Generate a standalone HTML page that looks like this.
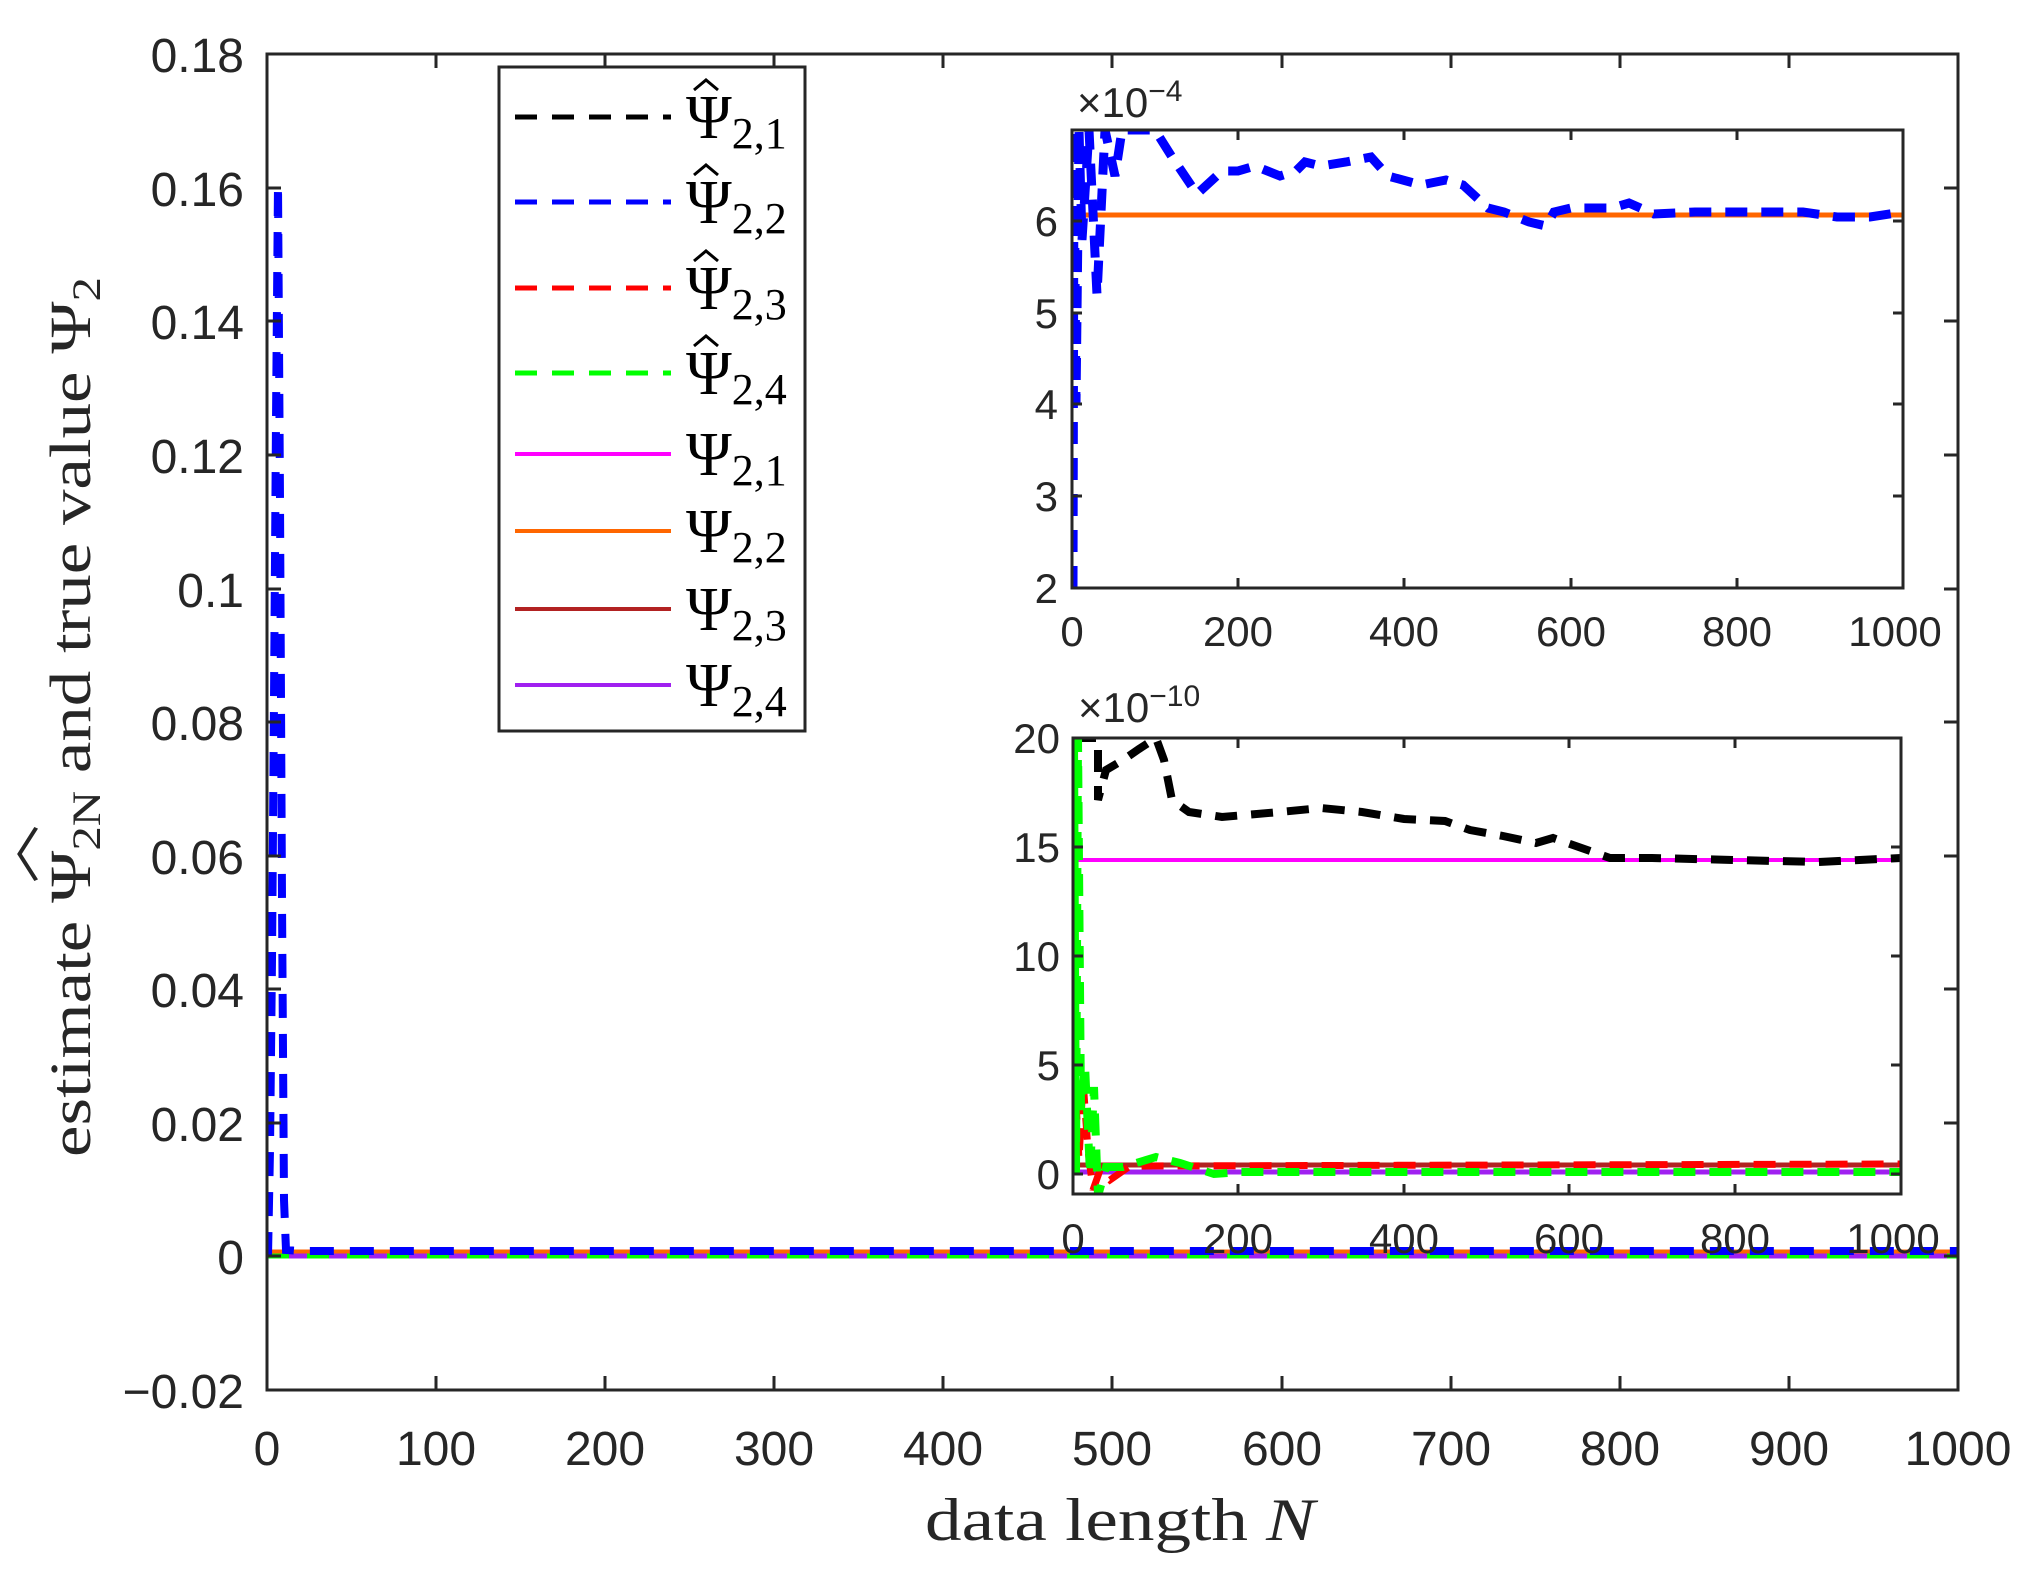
<!DOCTYPE html>
<html><head><meta charset="utf-8"><style>html,body{margin:0;padding:0;background:#fff}svg{display:block}</style></head>
<body>
<svg width="2043" height="1578" viewBox="0 0 2043 1578" xmlns="http://www.w3.org/2000/svg">
<defs>
<clipPath id="cm"><rect x="267" y="54" width="1691" height="1336"/></clipPath>
<clipPath id="c1"><rect x="1072" y="130" width="831" height="458"/></clipPath>
<clipPath id="c2"><rect x="1073" y="738" width="828" height="456"/></clipPath>
</defs>
<rect width="2043" height="1578" fill="#fff"/>
<g clip-path="url(#cm)" fill="none">
<line x1="267" y1="1252" x2="1958" y2="1252" stroke="#ff6600" stroke-width="5"/>
<line x1="267" y1="1256" x2="1958" y2="1256" stroke="#a020f0" stroke-width="5"/>
<line x1="267" y1="1256" x2="1958" y2="1256" stroke="#00ff00" stroke-width="5" stroke-dasharray="22 18"/>
<polyline points="268,1256 270,1150 272,960 274,700 276,420 278,185 280,500 282,900 284,1200 286,1250 300,1251 1958,1251" stroke="#0000ff" stroke-width="8" stroke-dasharray="24 16"/>
</g>
<g stroke="#262626" stroke-width="3" fill="none">
<rect x="267" y="54" width="1691" height="1336"/>
<path d="M267,54h14M267,188h14M267,321h14M267,455h14M267,589h14M267,722h14M267,856h14M267,989h14M267,1123h14M267,1256h14M1958,54h-14M1958,188h-14M1958,321h-14M1958,455h-14M1958,589h-14M1958,722h-14M1958,856h-14M1958,989h-14M1958,1123h-14M1958,1256h-14"/>
<path d="M436,1390v-14M605,1390v-14M774,1390v-14M943,1390v-14M1112,1390v-14M1282,1390v-14M1451,1390v-14M1620,1390v-14M1789,1390v-14M436,54v14M605,54v14M774,54v14M943,54v14M1112,54v14M1282,54v14M1451,54v14M1620,54v14M1789,54v14"/>
</g>
<g font-family="Liberation Sans, sans-serif" font-size="48" fill="#262626" text-anchor="end">
<text x="244" y="72">0.18</text><text x="244" y="206">0.16</text><text x="244" y="339">0.14</text><text x="244" y="473">0.12</text><text x="244" y="607">0.1</text><text x="244" y="740">0.08</text><text x="244" y="874">0.06</text><text x="244" y="1007">0.04</text><text x="244" y="1141">0.02</text><text x="244" y="1274">0</text><text x="244" y="1408">−0.02</text>
</g>
<g font-family="Liberation Sans, sans-serif" font-size="48" fill="#262626" text-anchor="middle">
<text x="267" y="1465">0</text><text x="436" y="1465">100</text><text x="605" y="1465">200</text><text x="774" y="1465">300</text><text x="943" y="1465">400</text><text x="1112" y="1465">500</text><text x="1282" y="1465">600</text><text x="1451" y="1465">700</text><text x="1620" y="1465">800</text><text x="1789" y="1465">900</text><text x="1958" y="1465">1000</text>
</g>
<text x="1120" y="1540" font-family="Liberation Serif, serif" font-size="60" fill="#262626" text-anchor="middle" textLength="390" lengthAdjust="spacingAndGlyphs">data length <tspan font-style="italic">N</tspan></text>
<g transform="translate(90,717) rotate(-90)" font-family="Liberation Serif, serif" fill="#262626">
<text x="0" y="0" font-size="58" text-anchor="middle" textLength="880" lengthAdjust="spacingAndGlyphs">estimate Ψ<tspan font-size="40" dy="10">2N</tspan><tspan dy="-10"> and true value Ψ</tspan><tspan font-size="40" dy="10">2</tspan></text>
<text x="-137" y="-56" font-size="58" text-anchor="middle">︿</text>
</g>
<rect x="499" y="67" width="306" height="664" fill="#fff" stroke="#262626" stroke-width="3"/>
<g stroke-width="5" fill="none">
<line x1="515" y1="117" x2="671" y2="117" stroke="#000" stroke-dasharray="22 15"/>
<line x1="515" y1="202" x2="671" y2="202" stroke="#0000ff" stroke-dasharray="22 15"/>
<line x1="515" y1="288" x2="671" y2="288" stroke="#ff0000" stroke-dasharray="22 15"/>
<line x1="515" y1="373" x2="671" y2="373" stroke="#00ff00" stroke-dasharray="22 15"/>
<line x1="515" y1="454" x2="671" y2="454" stroke="#ff00ff" stroke-width="4"/>
<line x1="515" y1="531" x2="671" y2="531" stroke="#ff6600" stroke-width="4"/>
<line x1="515" y1="609" x2="671" y2="609" stroke="#b22222" stroke-width="4"/>
<line x1="515" y1="685" x2="671" y2="685" stroke="#a020f0" stroke-width="4"/>
</g>
<g font-family="Liberation Serif, serif" fill="#000" font-size="62">
<text x="686" y="138">Ψ<tspan font-size="44" dy="10">2,1</tspan></text>
<text x="686" y="223">Ψ<tspan font-size="44" dy="10">2,2</tspan></text>
<text x="686" y="309">Ψ<tspan font-size="44" dy="10">2,3</tspan></text>
<text x="686" y="394">Ψ<tspan font-size="44" dy="10">2,4</tspan></text>
<text x="686" y="475">Ψ<tspan font-size="44" dy="10">2,1</tspan></text>
<text x="686" y="552">Ψ<tspan font-size="44" dy="10">2,2</tspan></text>
<text x="686" y="630">Ψ<tspan font-size="44" dy="10">2,3</tspan></text>
<text x="686" y="706">Ψ<tspan font-size="44" dy="10">2,4</tspan></text>
</g>
<g fill="none" stroke="#000" stroke-width="3">
<path d="M694,90l12,-10l12,10M694,175l12,-10l12,10M694,261l12,-10l12,10M694,346l12,-10l12,10"/>
</g>
<rect x="1072" y="130" width="831" height="458" fill="#fff"/>
<g clip-path="url(#c1)" fill="none">
<line x1="1072" y1="215" x2="1903" y2="215" stroke="#ff6600" stroke-width="5"/>
<polyline stroke="#0000ff" stroke-width="9" stroke-dasharray="22 14" points="1073,588 1074,130 1076,404 1079,130 1082,240 1089,130 1097,295 1105,130 1115,176 1122,130 1155,130 1172,157 1197,194 1222,171 1238,171 1255,166 1280,176 1296,171 1305,162 1321,166 1346,162 1371,157 1388,176 1421,185 1446,180 1463,185 1488,208 1504,212 1529,222 1546,226 1554,212 1571,208 1612,208 1629,203 1654,214 1695,212 1737,212 1803,212 1837,217 1870,217 1903,212"/>
</g>
<g stroke="#262626" stroke-width="3" fill="none">
<rect x="1072" y="130" width="831" height="458"/>
<path d="M1072,221h10M1072,313h10M1072,404h10M1072,496h10M1903,221h-10M1903,313h-10M1903,404h-10M1903,496h-10M1238,588v-10M1404,588v-10M1571,588v-10M1737,588v-10M1238,130v10M1404,130v10M1571,130v10M1737,130v10"/>
</g>
<g font-family="Liberation Sans, sans-serif" font-size="42" fill="#262626" text-anchor="middle">
<text x="1072" y="646">0</text><text x="1238" y="646">200</text><text x="1404" y="646">400</text><text x="1571" y="646">600</text><text x="1737" y="646">800</text><text x="1895" y="646">1000</text>
<text x="1058" y="236" text-anchor="end">6</text><text x="1058" y="328" text-anchor="end">5</text><text x="1058" y="419" text-anchor="end">4</text><text x="1058" y="511" text-anchor="end">3</text><text x="1058" y="603" text-anchor="end">2</text>
<text x="1077" y="117" text-anchor="start">×10<tspan font-size="30" dy="-16">−4</tspan></text>
</g>
<rect x="1073" y="738" width="828" height="456" fill="#fff"/>
<g clip-path="url(#c2)" fill="none">
<line x1="1073" y1="860" x2="1901" y2="860" stroke="#ff00ff" stroke-width="4"/>
<line x1="1073" y1="1165" x2="1901" y2="1165" stroke="#b22222" stroke-width="5"/>
<line x1="1073" y1="1172" x2="1901" y2="1172" stroke="#a020f0" stroke-width="5"/>
<polyline stroke="#ff0000" stroke-width="7" stroke-dasharray="22 14" points="1073,738 1076,1100 1079,1160 1083,1080 1088,1150 1093,1190 1100,1170 1110,1180 1130,1166 1901,1164"/>
<polyline stroke="#000" stroke-width="8" stroke-dasharray="22 14" points="1074,738 1090,738 1098,738 1098,800 1106,770 1123,760 1139,749 1156,738 1164,760 1172,800 1189,812 1222,817 1280,812 1321,808 1362,812 1404,819 1445,821 1470,830 1503,836 1536,843 1553,838 1610,858 1652,858 1735,860 1818,862 1901,858"/>
<polyline stroke="#00ff00" stroke-width="8" stroke-dasharray="22 14" points="1074,738 1076,1174 1078,738 1081,1110 1085,1065 1090,1174 1094,1087 1098,1196 1106,1167 1123,1167 1156,1157 1180,1163 1214,1174 1240,1172 1901,1172"/>
</g>
<g stroke="#262626" stroke-width="3" fill="none">
<rect x="1073" y="738" width="828" height="456"/>
<path d="M1073,1174h10M1073,1065h10M1073,956h10M1073,847h10M1901,1174h-10M1901,1065h-10M1901,956h-10M1901,847h-10M1238,1194v-10M1404,1194v-10M1569,1194v-10M1735,1194v-10M1238,738v10M1404,738v10M1569,738v10M1735,738v10"/>
</g>
<g font-family="Liberation Sans, sans-serif" font-size="42" fill="#262626" text-anchor="middle">
<text x="1073" y="1253">0</text><text x="1238" y="1253">200</text><text x="1404" y="1253">400</text><text x="1569" y="1253">600</text><text x="1735" y="1253">800</text><text x="1893" y="1253">1000</text>
<text x="1060" y="1189" text-anchor="end">0</text><text x="1060" y="1080" text-anchor="end">5</text><text x="1060" y="971" text-anchor="end">10</text><text x="1060" y="862" text-anchor="end">15</text><text x="1060" y="753" text-anchor="end">20</text>
<text x="1078" y="722" text-anchor="start">×10<tspan font-size="30" dy="-16">−10</tspan></text>
</g>
</svg>
</body></html>
